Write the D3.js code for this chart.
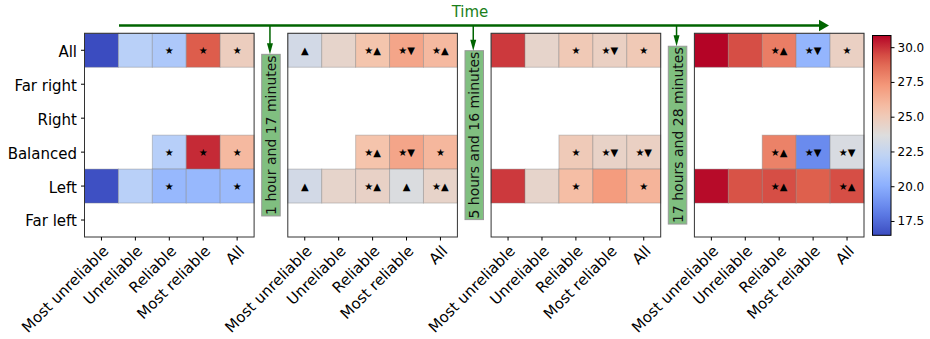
<!DOCTYPE html>
<html>
<head>
<meta charset="utf-8">
<script src="https://cdn.jsdelivr.net/npm/d3@7"></script>
<style>
  html, body { margin: 0; padding: 0; background: #fff; }
  svg { display: block; font-family: "DejaVu Sans", sans-serif; }
</style>
</head>
<body>
<svg id="chart" width="930" height="339"></svg>
<script>
// Row / column categories of every heatmap
const rows = ["All", "Far right", "Right", "Balanced", "Left", "Far left"];
const cols = ["Most unreliable", "Unreliable", "Reliable", "Most reliable", "All"];

// Elapsed time between consecutive snapshots
const timeLabels = ["1 hour and 17 minutes", "5 hours and 16 minutes", "17 hours and 28 minutes"];

// Colour bar range and ticks
const colorDomain = [16.47, 30.84];
const colorTicks = [17.5, 20.0, 22.5, 25.0, 27.5, 30.0];

// Mean values per snapshot (rows x columns, null = no data)
const valuesT1 = [
  [16.47, 21.9, 21.4, 29.1, 24.8],
  [null, null, null, null, null],
  [null, null, null, null, null],
  [null, null, 21.8, 30.1, 25.9],
  [16.6, 21.9, 20.5, 20.5, 20.6],
  [null, null, null, null, null]
];
const valuesT2 = [
  [23.1, 24.3, 25.4, 26.7, 25.9],
  [null, null, null, null, null],
  [null, null, null, null, null],
  [null, null, 25.45, 26.7, 26.0],
  [23.1, 24.3, 24.5, 23.5, 24.4],
  [null, null, null, null, null]
];
const valuesT3 = [
  [29.8, 24.3, 25.1, 24.6, 25.1],
  [null, null, null, null, null],
  [null, null, null, null, null],
  [null, null, 25.0, 24.45, 24.6],
  [29.8, 24.3, 25.7, 27.1, 26.1],
  [null, null, null, null, null]
];
const valuesT4 = [
  [30.84, 29.4, 28.1, 20.35, 24.6],
  [null, null, null, null, null],
  [null, null, null, null, null],
  [null, null, 27.95, 18.6, 23.4],
  [30.7, 29.3, 29.4, 29.05, 29.4],
  [null, null, null, null, null]
];

// Significance markers per cell
const marksT1 = [
  ["", "", "★", "★", "★"],
  ["", "", "", "", ""],
  ["", "", "", "", ""],
  ["", "", "★", "★", "★"],
  ["", "", "★", "", "★"],
  ["", "", "", "", ""]
];
const marksT2 = [
  ["▲", "", "★▲", "★▼", "★▲"],
  ["", "", "", "", ""],
  ["", "", "", "", ""],
  ["", "", "★▲", "★▼", "★"],
  ["▲", "", "★▲", "▲", "★▲"],
  ["", "", "", "", ""]
];
const marksT3 = [
  ["", "", "★", "★▼", "★"],
  ["", "", "", "", ""],
  ["", "", "", "", ""],
  ["", "", "★", "★▼", "★▼"],
  ["", "", "★", "", "★"],
  ["", "", "", "", ""]
];
const marksT4 = [
  ["", "", "★▲", "★▼", "★"],
  ["", "", "", "", ""],
  ["", "", "", "", ""],
  ["", "", "★▲", "★▼", "★▼"],
  ["", "", "★▲", "", "★▲"],
  ["", "", "", "", ""]
];

const panels = [
  { values: valuesT1, marks: marksT1 },
  { values: valuesT2, marks: marksT2 },
  { values: valuesT3, marks: marksT3 },
  { values: valuesT4, marks: marksT4 }
];

// ---- layout ----
const svg = d3.select("#chart");
const panelLeft = 84.5, panelStep = 203.3, panelW = 169.6;
const panelTop = 33.3, panelH = 203.7;
const green = "#006400";

// coolwarm colour map
const coolwarm = d3.piecewise(d3.interpolateRgb, [
  "#3b4cc0", "#6282ea", "#8db0fe", "#b8d0f9", "#dddddd",
  "#f5c4ac", "#f4987a", "#de604d", "#b40426"
]);
const color = d3.scaleSequential(coolwarm).domain(colorDomain);

panels.forEach((p, i) => {
  const x0 = panelLeft + i * panelStep;
  const x = d3.scaleBand().domain(cols).range([x0, x0 + panelW]);
  const y = d3.scaleBand().domain(rows).range([panelTop, panelTop + panelH]);
  const g = svg.append("g");

  const cells = [];
  rows.forEach((r, ri) => cols.forEach((c, ci) => {
    const v = p.values[ri][ci];
    if (v !== null) cells.push({ r, c, v, m: p.marks[ri][ci] });
  }));

  g.selectAll("rect.cell").data(cells).join("rect")
    .attr("class", "cell")
    .attr("x", d => x(d.c))
    .attr("y", d => y(d.r))
    .attr("width", x.bandwidth())
    .attr("height", y.bandwidth())
    .attr("fill", d => color(d.v))
    .attr("stroke", "rgba(128,128,128,0.4)")
    .attr("stroke-width", 1);

  g.selectAll("text.mark").data(cells.filter(d => d.m)).join("text")
    .attr("class", "mark")
    .attr("x", d => x(d.c) + x.bandwidth() / 2)
    .attr("y", d => y(d.r) + y.bandwidth() / 2)
    .attr("text-anchor", "middle")
    .attr("dominant-baseline", "central")
    .attr("font-size", 10)
    .attr("fill", "#000")
    .text(d => d.m);

  // frame
  g.append("rect")
    .attr("x", x0).attr("y", panelTop)
    .attr("width", panelW).attr("height", panelH)
    .attr("fill", "none").attr("stroke", "#333").attr("stroke-width", 1);

  // bottom axis with rotated labels
  const ax = g.append("g")
    .attr("transform", `translate(0,${panelTop + panelH})`)
    .call(d3.axisBottom(x).tickSize(3.5).tickSizeOuter(0));
  ax.select(".domain").remove();
  ax.selectAll(".tick line").attr("stroke", "#000");
  ax.selectAll(".tick text")
    .attr("x", null).attr("y", null).attr("dy", null)
    .attr("transform", "translate(8,15) rotate(-45)")
    .attr("text-anchor", "end")
    .attr("font-size", 15)
    .attr("font-family", "DejaVu Sans")
    .attr("fill", "#000");

  if (i === 0) {
    const ay = g.append("g")
      .attr("transform", `translate(${x0},0)`)
      .call(d3.axisLeft(y).tickSize(3.5).tickPadding(4));
    ay.select(".domain").remove();
    ay.selectAll(".tick line").attr("stroke", "#000");
    ay.selectAll(".tick text")
      .attr("dy", "0.43em")
      .attr("font-size", 15)
      .attr("font-family", "DejaVu Sans")
      .attr("fill", "#000");
  }
});

// ---- time arrow ----
const arrowY = 25.5;
const arrowStart = 119, arrowEnd = 829;
svg.append("line")
  .attr("x1", arrowStart).attr("x2", arrowEnd - 9)
  .attr("y1", arrowY).attr("y2", arrowY)
  .attr("stroke", green).attr("stroke-width", 2.5);
svg.append("path")
  .attr("d", `M${arrowEnd - 10},${arrowY - 5.8} L${arrowEnd},${arrowY} L${arrowEnd - 10},${arrowY + 5.8} Z`)
  .attr("fill", green);
svg.append("text")
  .attr("x", 470).attr("y", 16.5)
  .attr("text-anchor", "middle")
  .attr("font-size", 15)
  .attr("fill", "#1a7f1a")
  .text("Time");

// ---- elapsed-time boxes between panels ----
const midY = panelTop + panelH / 2;
timeLabels.forEach((lab, i) => {
  const cx = panelLeft + panelW + i * panelStep + (panelStep - panelW) / 2;
  const g = svg.append("g");
  const t = g.append("text")
    .attr("transform", `translate(${cx},${midY}) rotate(-90)`)
    .attr("text-anchor", "middle")
    .attr("dominant-baseline", "central")
    .attr("font-size", 14)
    .attr("fill", "#111")
    .text(lab);
  const len = t.node().getComputedTextLength();
  const boxH = len + 2, boxW = 18.5;
  g.insert("rect", "text")
    .attr("x", cx - boxW / 2).attr("y", midY - boxH / 2)
    .attr("width", boxW).attr("height", boxH)
    .attr("fill", "#80bf80")
    .attr("stroke", "#999").attr("stroke-width", 1);
  const boxTop = midY - boxH / 2;
  svg.append("line")
    .attr("x1", cx - 1).attr("x2", cx - 1)
    .attr("y1", arrowY).attr("y2", boxTop - 9)
    .attr("stroke", green).attr("stroke-width", 1.5);
  svg.append("path")
    .attr("d", `M${cx - 4},${boxTop - 11} L${cx - 1},${boxTop} L${cx + 2},${boxTop - 11} Z`)
    .attr("fill", green);
});

// ---- colour bar ----
const cbX = 872.5, cbW = 18.5, cbTop = 35.5, cbBottom = 235.3;
const defs = svg.append("defs");
const grad = defs.append("linearGradient")
  .attr("id", "cbgrad")
  .attr("x1", 0).attr("y1", 1).attr("x2", 0).attr("y2", 0);
d3.range(0, 1.0001, 0.05).forEach(s => {
  grad.append("stop").attr("offset", s).attr("stop-color", coolwarm(s));
});
svg.append("rect")
  .attr("x", cbX).attr("y", cbTop)
  .attr("width", cbW).attr("height", cbBottom - cbTop)
  .attr("fill", "url(#cbgrad)")
  .attr("stroke", "#000").attr("stroke-width", 1);
const cbScale = d3.scaleLinear().domain(colorDomain).range([cbBottom, cbTop]);
const cbAxis = svg.append("g")
  .attr("transform", `translate(${cbX + cbW},0)`)
  .call(d3.axisRight(cbScale).tickValues(colorTicks).tickFormat(d3.format(".1f")).tickSize(3.5).tickPadding(3));
cbAxis.select(".domain").remove();
cbAxis.selectAll(".tick line").attr("stroke", "#000");
cbAxis.selectAll(".tick text")
  .attr("font-size", 12)
  .attr("font-family", "DejaVu Sans")
  .attr("fill", "#000");
</script>
</body>
</html>
